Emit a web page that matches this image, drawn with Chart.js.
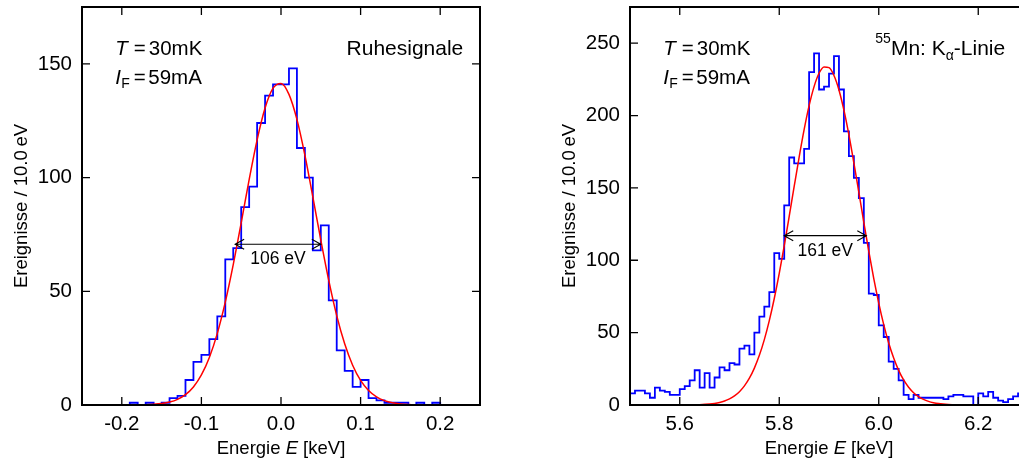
<!DOCTYPE html>
<html lang="de">
<head>
<meta charset="UTF-8">
<title>Ruhesignale und Mn K-alpha Linie</title>
<script src="https://cdn.jsdelivr.net/npm/chart.js"></script>
<style>
  html, body { margin: 0; padding: 0; background: #fff; overflow: hidden; width: 1019px; height: 461px; }
  .panel { position: absolute; top: 0; width: 520px; height: 461px; }
  #left { left: 0; }
  #right { left: 548px; }
</style>
</head>
<body>
<div class="panel" id="left"><canvas id="cLeft" width="520" height="461"></canvas></div>
<div class="panel" id="right"><canvas id="cRight" width="520" height="461"></canvas></div>
<script>
const FONT = "'Liberation Sans', Arial, sans-serif";
const binWidth = 0.01; // keV

// Ruhesignale: bins from -0.25 keV, 10 eV wide
const ruheStart = -0.25;
const ruheCounts = [0,0,0,0,0,0,1,0,1,0, 1,3,4,11,19,22,29,39,64,69,
                    87,96,124,136,141,141,148,113,100,68, 79,46,24,15,8,11,3,2,1,1,
                    1,0,1,0,1,0,0,0,0,0];
const ruheFitE = [-0.25,-0.20,-0.18,-0.17,-0.16,-0.15,-0.14,-0.13,-0.12,-0.11,-0.10,-0.09,-0.08,
                  -0.07,-0.06,-0.05,-0.04,-0.03,-0.02,-0.01,0.00,0.01,0.02,0.03,0.04,0.05,0.06,
                  0.07,0.08,0.09,0.10,0.11,0.12,0.13,0.14,0.15,0.16,0.17,0.18,0.20,0.25];
const ruheFitN = [0,0.01,0.05,0.13,0.3,0.63,1.28,2.48,4.55,7.94,13.2,20.9,31.5,
                  45.2,61.7,80.1,99.1,116.6,130.6,139.3,141.4,136.6,125.6,109.9,91.5,72.6,54.8,
                  39.3,26.9,17.5,10.8,6.39,3.59,1.92,0.97,0.47,0.22,0.09,0.04,0.005,0];
const ruheXTicks = [-0.2, -0.1, 0.0, 0.1, 0.2];
const ruheYTicks = [0, 50, 100, 150];

// 55Mn K-alpha: bins from 5.50 keV
const mnStart = 5.5;
const mnCounts = [8,10,10,8,5,12,10,9,7,7, 11,13,17,24,12,22,12,19,26,24,
                  29,28,39,41,35,50,61,68,78,105, 101,138,171,167,167,177,230,243,218,220,
                  229,241,218,189,172,157,143,112,77,76, 55,47,30,25,17,7,4,7,5,5,
                  5,5,5,4,6,7,7,6,6,0, 8,6,9,5,3,2,4,6,8,7];
const mnFitE = [5.50,5.58,5.60,5.62,5.64,5.66,5.67,5.68,5.69,5.70,5.71,5.72,5.73,5.74,5.75,
                5.76,5.77,5.78,5.79,5.80,5.81,5.82,5.83,5.84,5.85,5.86,5.87,5.88,5.89,5.90,
                5.91,5.92,5.93,5.94,5.95,5.96,5.97,5.98,5.99,6.00,6.01,6.02,6.03,6.04,6.05,
                6.06,6.07,6.08,6.09,6.10,6.11,6.12,6.14,6.16,6.18,6.22,6.30];
const mnFitN = [0,0.002,0.02,0.08,0.24,0.67,1.09,1.75,2.73,4.18,6.26,9.18,13.2,18.5,25.5,
                34.3,45.2,58.3,73.6,90.9,110.0,130.3,151.0,171.3,190.2,206.8,220.0,229.2,233.6,233.1,
                227.7,217.7,203.7,186.6,167.3,146.9,126.2,106.1,87.3,70.4,55.5,42.8,32.4,23.9,17.3,
                12.3,8.52,5.78,3.84,2.50,1.59,0.99,0.36,0.12,0.04,0,0];
const mnXTicks = [5.6, 5.8, 6.0, 6.2];
const mnYTicks = [0, 50, 100, 150, 200, 250];

Chart.defaults.font.family = FONT;
Chart.defaults.color = '#000';

function drawSeq(ctx, x, y, runs) {
  runs.forEach(r => {
    ctx.font = r.font;
    ctx.fillText(r.text, x + (r.dx || 0), y + (r.dy || 0));
    if (r.dx === undefined) x += ctx.measureText(r.text).width;
  });
}
function seqWidth(ctx, runs) {
  let w = 0;
  runs.forEach(r => { ctx.font = r.font; w += ctx.measureText(r.text).width; });
  return w;
}

const rahmen = {
  id: 'rahmen',
  afterDatasetsDraw(chart, args, o) {
    const {ctx, chartArea: a, scales: {x, y}} = chart;
    ctx.save();
    ctx.strokeStyle = '#000';
    ctx.fillStyle = '#000';
    ctx.lineWidth = 1.3;
    ctx.beginPath();
    x.ticks.forEach(t => {
      const px = x.getPixelForValue(t.value);
      ctx.moveTo(px, a.bottom); ctx.lineTo(px, a.bottom - 8);
      ctx.moveTo(px, a.top); ctx.lineTo(px, a.top + 8);
    });
    y.ticks.forEach(t => {
      const py = y.getPixelForValue(t.value);
      ctx.moveTo(a.left, py); ctx.lineTo(a.left + 8, py);
      ctx.moveTo(a.right, py); ctx.lineTo(a.right - 8, py);
    });
    ctx.stroke();
    ctx.lineWidth = 2;
    ctx.strokeRect(a.left, a.top, a.right - a.left, a.bottom - a.top);

    // FWHM arrow
    const f = o.fwhm;
    const x1 = x.getPixelForValue(f.from), x2 = x.getPixelForValue(f.to), py = y.getPixelForValue(f.n);
    ctx.lineWidth = 1.1;
    ctx.beginPath();
    ctx.moveTo(x1, py); ctx.lineTo(x2, py);
    ctx.moveTo(x1 + 9, py - 5); ctx.lineTo(x1, py); ctx.lineTo(x1 + 9, py + 5);
    ctx.moveTo(x2 - 9, py - 5); ctx.lineTo(x2, py); ctx.lineTo(x2 - 9, py + 5);
    ctx.stroke();
    ctx.textAlign = 'center';
    ctx.textBaseline = 'alphabetic';
    ctx.font = '17.5px ' + FONT;
    ctx.fillText(f.label, (x1 + x2) / 2, py + 20);

    // T and I_F
    ctx.textAlign = 'left';
    const N = '20.5px ' + FONT, I = 'italic 20.5px ' + FONT, S = '14px ' + FONT;
    const tx = a.left + 33.3;
    drawSeq(ctx, tx, a.top + 47.7, [
      {text: 'T', font: I, dx: 0}, {text: '=', font: N, dx: 18.5}, {text: '30mK', font: N, dx: 33.5}]);
    drawSeq(ctx, tx, a.top + 76.5, [
      {text: 'I', font: I, dx: 0}, {text: 'F', font: S, dx: 6, dy: 4}, {text: '=', font: N, dx: 18.5},
      {text: '59mA', font: N, dx: 33}]);

    // tag top right
    const tag = o.tag;
    const w = seqWidth(ctx, tag);
    drawSeq(ctx, a.right - o.tagRight - w, a.top + 48, tag);

    // axis titles
    const TN = '18.5px ' + FONT, TI = 'italic 18.5px ' + FONT;
    const xt = [{text: 'Energie ', font: TN}, {text: 'E', font: TI}, {text: ' [keV]', font: TN}];
    drawSeq(ctx, (a.left + a.right) / 2 - seqWidth(ctx, xt) / 2, 454, xt);
    ctx.translate(26.5, (a.top + a.bottom) / 2);
    ctx.rotate(-Math.PI / 2);
    ctx.textAlign = 'center';
    ctx.font = TN;
    ctx.fillText('Ereignisse / 10.0\u2009eV', 0, 0);
    ctx.restore();
  }
};

function makeChart(id, d) {
  const hist = d.counts.map((c, i) => ({x: d.start + i * binWidth, y: c}));
  hist.push({x: d.start + d.counts.length * binWidth, y: d.counts[d.counts.length - 1]});
  hist.unshift({x: d.start, y: 0});
  const fit = d.fitE.map((e, i) => ({x: e, y: d.fitN[i]}));
  return new Chart(document.getElementById(id), {
    type: 'line',
    data: {
      datasets: [
        { data: fit, borderColor: '#ff0000', borderWidth: 1.5, pointRadius: 0, cubicInterpolationMode: 'monotone' },
        { data: hist, borderColor: '#0000ff', borderWidth: 1.8, pointRadius: 0, stepped: true }
      ]
    },
    options: {
      responsive: false,
      animation: false,
      events: [],
      layout: { padding: { top: 7, right: 40, left: 0, bottom: 0 } },
      plugins: {
        legend: { display: false },
        tooltip: { enabled: false },
        rahmen: { fwhm: d.fwhm, tag: d.tag, tagRight: d.tagRight }
      },
      scales: {
        x: {
          type: 'linear', min: d.xMin, max: d.xMax,
          grid: { display: false, drawTicks: false },
          border: { display: false },
          afterBuildTicks: s => { s.ticks = d.xTicks.map(v => ({value: v})); },
          afterFit: s => { s.height = 56; s.paddingLeft = 0; s.paddingRight = 0; },
          ticks: { padding: 7, autoSkip: false, maxRotation: 0, font: { size: 20.5 }, callback: v => v.toFixed(1) }
        },
        y: {
          min: 0, max: d.yMax,
          grid: { display: false, drawTicks: false },
          border: { display: false },
          afterBuildTicks: s => { s.ticks = d.yTicks.map(v => ({value: v})); },
          afterFit: s => { s.width = 82; s.paddingTop = 0; s.paddingBottom = 0; },
          ticks: { padding: 10, autoSkip: false, font: { size: 20.5 }, callback: v => String(v) }
        }
      }
    },
    plugins: [rahmen]
  });
}

const NT = '21px ' + FONT, ST = '14px ' + FONT;

makeChart('cLeft', {
  start: ruheStart, counts: ruheCounts, fitE: ruheFitE, fitN: ruheFitN,
  xMin: -0.25, xMax: 0.25, yMax: 175, xTicks: ruheXTicks, yTicks: ruheYTicks,
  fwhm: { from: -0.0576, to: 0.050, n: 70.7, label: '106 eV' },
  tag: [{ text: 'Ruhesignale', font: NT }], tagRight: 16.7
});

makeChart('cRight', {
  start: mnStart, counts: mnCounts, fitE: mnFitE, fitN: mnFitN,
  xMin: 5.5, xMax: 6.3, yMax: 275, xTicks: mnXTicks, yTicks: mnYTicks,
  fwhm: { from: 5.810, to: 5.975, n: 117, label: '161 eV' },
  tag: [{ text: '55', font: ST, dy: -12 }, { text: 'Mn: K', font: NT }, { text: '\u03b1', font: ST, dy: 5 },
        { text: '-Linie', font: NT }],
  tagRight: 22.8
});
</script>
</body>
</html>
